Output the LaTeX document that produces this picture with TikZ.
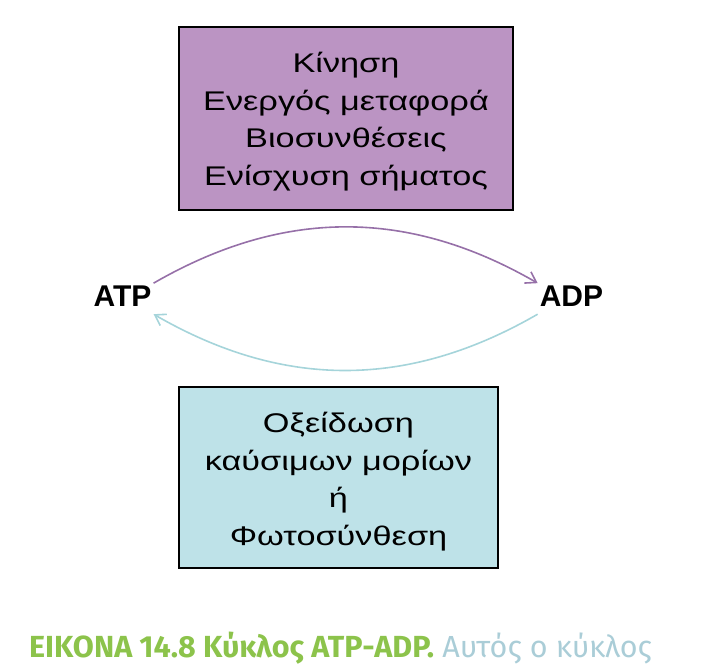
\documentclass[tikz,border=0pt]{standalone}
\usepackage{fontspec}
\setmainfont{Liberation Sans}
\newfontfamily\boxfont[FakeStretch=1.27]{Liberation Sans}
\newfontfamily\capfont{Fira Sans}
\usetikzlibrary{arrows.meta,positioning}
\definecolor{lila}{RGB}{187,148,195}
\definecolor{lilaline}{RGB}{150,112,168}
\definecolor{aqua}{RGB}{190,226,232}
\definecolor{aqualine}{RGB}{165,212,218}
\definecolor{capgreen}{RGB}{140,195,75}
\definecolor{capgrey}{RGB}{170,205,215}

\begin{document}
\begin{tikzpicture}[x=1pt,y=-1pt,
  box/.style={draw,line width=1.5pt,align=center,inner sep=0pt,
    font=\boxfont\fontsize{27}{37.5}\selectfont},
  mol/.style={font=\fontsize{30}{32}\selectfont\bfseries,inner sep=2pt,
    text depth=6pt,anchor=base},
  cyc/.style={line width=1.6pt,-{Straight Barb[length=10pt,width=13pt]}}]
\useasboundingbox (0,0) rectangle (706,668);
% boxes
\node[box,fill=lila,minimum width=334pt,minimum height=183pt] (uses) at (346,118.5)
  {\rule{0pt}{27pt}Κίνηση\\Ενεργός μεταφορά\\Βιοσυνθέσεις\\Ενίσχυση σήματος};
\node[box,fill=aqua,minimum width=319pt,minimum height=181pt] (sources) at (338.5,477.5)
  {\rule{0pt}{29pt}Οξείδωση\\καύσιμων μορίων\\ή\\Φωτοσύνθεση};
% the cycle
\node[mol] (atp) at (122.5,306) {ATP};
\node[mol] (adp) at (571.5,306) {ADP};
\draw[cyc,lilaline] (atp.north east) to[bend left=30] (adp.north west);
\draw[cyc,aqualine] (adp.south west) to[bend left=30] (atp.south east);
% caption
\node[anchor=base west,inner sep=0pt,font=\capfont\fontsize{30.5}{33}\selectfont] (caption) at (29,657)
  {{\color{capgreen}\bfseries ΕΙΚΟΝΑ 14.8 Κύκλος ATP-ADP.} {\color{capgrey}Αυτός ο κύκλος}};
\end{tikzpicture}
\end{document}
